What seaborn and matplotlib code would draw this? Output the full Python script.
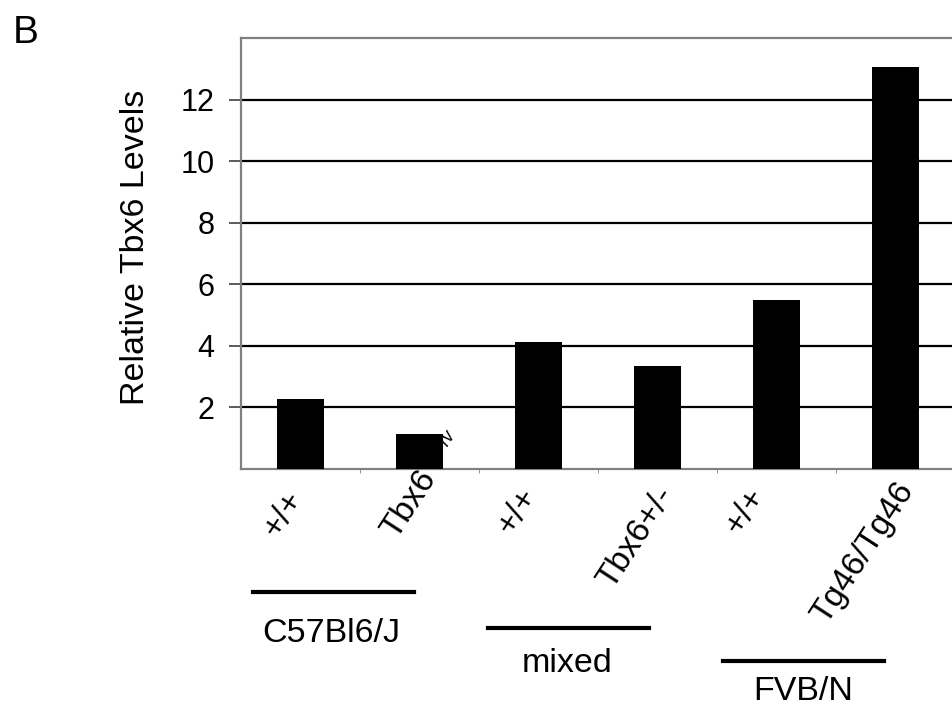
import numpy as np
import pandas as pd
import matplotlib
matplotlib.use("Agg")
import matplotlib.pyplot as plt
from matplotlib.transforms import offset_copy
from matplotlib.lines import Line2D
import seaborn as sns

# data
sample_ids = ["b6_wt", "b6_rv", "mix_wt", "mix_het", "fvb_wt", "fvb_tg"]
genotype_labels = ["+/+", "Tbx6", "+/+", "Tbx6+/-", "+/+", "Tg46/Tg46"]
rv_label = "rv"
tbx6_levels = [2.27, 1.13, 4.12, 3.33, 5.48, 13.06]
strains = ["C57Bl6/J", "mixed", "FVB/N"]
yticks = [2, 4, 6, 8, 10, 12]


def main():
    W, H = 952, 713
    plt.rcParams['font.family'] = "Liberation Sans"

    fig = plt.figure(figsize=(W / 100, H / 100), dpi=100)
    ax = fig.add_axes([241 / W, 1 - 469 / H, 714 / W, 431 / H])

    df = pd.DataFrame({"sample": sample_ids, "level": tbx6_levels})
    sns.barplot(data=df, x="sample", y="level", color="black",
                saturation=1, width=0.4, ax=ax)
    for p in ax.patches:
        p.set_zorder(3)

    ax.set_ylim(0, 14)
    ax.set_xlim(-0.5, len(sample_ids) - 0.5)
    ax.set_yticks(yticks)
    ax.set_axisbelow(True)
    ax.yaxis.grid(True, color="black", lw=1.6)
    ax.tick_params(axis="y", labelsize=22, length=9, width=1.2,
                   color="#404040", pad=10)
    ax.set_xticks(np.arange(len(sample_ids)) + 0.5, minor=True)
    ax.set_xticks([])
    ax.tick_params(axis="x", which="minor", length=3, color="#808080")
    ax.set_xlabel("")
    ax.set_ylabel("")
    for s in ["left", "bottom", "top"]:
        ax.spines[s].set_color("#808080")
        ax.spines[s].set_linewidth(1.6)
    ax.spines["right"].set_visible(False)

    # rotated genotype labels, hand placed like the original
    offsets = [(-4, -25), (10, -4), (-8, -22), (10, -21), (-18, -22), (12, -16)]
    for i, (lab, (dx, dy)) in enumerate(zip(genotype_labels, offsets)):
        tr = offset_copy(ax.transData, fig=fig, x=dx, y=dy, units="dots")
        ax.text(i, 0, lab, transform=tr, rotation=57, rotation_mode="anchor",
                ha="right", va="center", fontsize=24, clip_on=False, zorder=2)
    # superscript of Tbx6rv, mostly hidden behind the bar
    tr = offset_copy(ax.transData, fig=fig, x=33, y=37, units="dots")
    ax.text(1, 0, rv_label, transform=tr, rotation=57, rotation_mode="anchor",
            ha="right", va="center", fontsize=13, style="italic",
            clip_on=False, zorder=2)

    # strain brackets
    lines = [(253, 414, 592), (488, 649, 628), (723, 884, 661)]
    texts = [(331, 642), (567, 672), (803, 700)]
    for name, (x0, x1, y), (tx, ty) in zip(strains, lines, texts):
        fig.add_artist(Line2D([x0 / W, x1 / W], [1 - y / H, 1 - y / H],
                              color="black", lw=3, transform=fig.transFigure))
        fig.text(tx / W, 1 - ty / H, name, ha="center", va="baseline",
                 fontsize=24.5)

    fig.text(135 / W, 1 - 247 / H, "Relative Tbx6 Levels", rotation=90,
             ha="center", va="center", fontsize=24.5)
    fig.text(13 / W, 1 - 43 / H, "B", ha="left", va="baseline", fontsize=28)

    fig.savefig("out.png", dpi=100)


if __name__ == "__main__":
    main()
